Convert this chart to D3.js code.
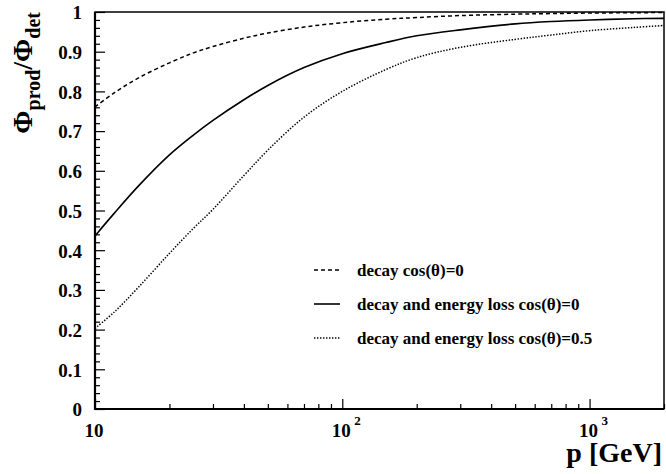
<!DOCTYPE html>
<html lang="en">
<head>
    <meta charset="UTF-8">
    <title>Flux ratio vs momentum</title>
    <script src="https://cdn.jsdelivr.net/npm/d3@7/dist/d3.min.js"></script>
    <style>
        body { margin: 0; background: #fff; }
        svg text { font-family: "Liberation Serif", "Times New Roman", serif; font-weight: bold; fill: #000; }
    </style>
</head>
<body>
<div id="chartArea"></div>
<script>
    'use strict';

    // momentum points (GeV) and the three curves
    const momentum = [10, 12, 15, 20, 25, 30, 40, 50, 70, 100, 150, 200, 300, 500, 700, 1000, 1500, 2000];
    const decayOnly = [0.761, 0.797, 0.834, 0.872, 0.897, 0.913, 0.934, 0.947, 0.962, 0.973, 0.982, 0.986, 0.991, 0.9945, 0.996, 0.9973, 0.9982, 0.9986];
    const decayLoss0 = [0.436, 0.494, 0.562, 0.640, 0.690, 0.727, 0.779, 0.815, 0.860, 0.895, 0.923, 0.940, 0.955, 0.970, 0.976, 0.980, 0.983, 0.984];
    const decayLoss05 = [0.203, 0.245, 0.307, 0.392, 0.455, 0.503, 0.588, 0.652, 0.735, 0.800, 0.855, 0.885, 0.911, 0.931, 0.942, 0.953, 0.961, 0.966];

    const legendLabels = ['decay cos(\u03b8)=0', 'decay and energy loss cos(\u03b8)=0', 'decay and energy loss cos(\u03b8)=0.5'];

    const yMajor = [0, 0.1, 0.2, 0.3, 0.4, 0.5, 0.6, 0.7, 0.8, 0.9, 1];
    const yMajorLabels = ['0', '0.1', '0.2', '0.3', '0.4', '0.5', '0.6', '0.7', '0.8', '0.9', '1'];
    const xMajor = [10, 100, 1000];
    const xMajorExp = [null, '2', '3'];
    const xMinor = [20, 30, 40, 50, 60, 70, 80, 90, 200, 300, 400, 500, 600, 700, 800, 900, 2000];

    const width = 666, height = 474;
    const plotLeft = 95, plotRight = 664, plotTop = 12, plotBottom = 409;

    const svg = d3.select('#chartArea').append('svg').attr('width', width).attr('height', height);

    const x = d3.scaleLog().domain([10, 2000]).range([plotLeft, plotRight]);
    const y = d3.scaleLinear().domain([0, 1]).range([plotBottom, plotTop]);

    // minor y ticks every 0.02
    const yMinor = d3.range(0, 51).map(function (i) { return i / 50; }).filter(function (v, i) { return i % 5 !== 0; });

    const gy = svg.append('g').attr('transform', 'translate(' + plotLeft + ',0)');
    gy.call(d3.axisLeft(y).tickValues(yMajor).tickSizeInner(-10).tickSizeOuter(0).tickPadding(13)
        .tickFormat(function (d, i) { return yMajorLabels[i]; }));
    gy.append('g').call(d3.axisLeft(y).tickValues(yMinor).tickSizeInner(-5).tickSizeOuter(0).tickFormat(''));
    gy.selectAll('.domain').remove();
    gy.selectAll('line').attr('stroke', '#000').attr('stroke-width', 1.2);
    gy.selectAll('text').style('font-size', '19px').attr('dy', '0.36em');

    const gx = svg.append('g').attr('transform', 'translate(0,' + plotBottom + ')');
    gx.call(d3.axisBottom(x).tickValues(xMajor).tickSizeInner(-10).tickSizeOuter(0).tickFormat(''));
    gx.append('g').call(d3.axisBottom(x).tickValues(xMinor).tickSizeInner(-5).tickSizeOuter(0).tickFormat(''));
    gx.selectAll('.domain').remove();
    gx.selectAll('line').attr('stroke', '#000').attr('stroke-width', 1.2);

    // x labels: 10, 10^2, 10^3
    xMajor.forEach(function (v, i) {
        svg.append('text').attr('x', x(v) - 1).attr('y', plotBottom + 28)
            .attr('text-anchor', 'middle').style('font-size', '19px').text('10');
        if (xMajorExp[i]) {
            svg.append('text').attr('x', x(v) + 12).attr('y', plotBottom + 16)
                .style('font-size', '13px').text(xMajorExp[i]);
        }
    });

    // frame
    svg.append('rect').attr('x', plotLeft).attr('y', plotTop).attr('width', plotRight - plotLeft).attr('height', plotBottom - plotTop)
        .attr('fill', 'none').attr('stroke', '#000').attr('stroke-width', 1.5);
    svg.append('path').attr('d', 'M' + plotLeft + ',' + plotTop + 'V' + plotBottom + 'H' + plotRight)
        .attr('fill', 'none').attr('stroke', '#000').attr('stroke-width', 2.2);

    // curves
    const series = [
        { values: decayOnly, dash: '4,3', w: 1.5 },
        { values: decayLoss0, dash: null, w: 1.6 },
        { values: decayLoss05, dash: '1.4,1.6', w: 1.5 }
    ];

    const line = d3.line()
        .x(function (d) { return x(d[0]); })
        .y(function (d) { return y(d[1]); })
        .curve(d3.curveCatmullRom.alpha(0.5));

    series.forEach(function (s) {
        svg.append('path')
            .datum(momentum.map(function (p, i) { return [p, s.values[i]]; }))
            .attr('d', line)
            .attr('fill', 'none')
            .attr('stroke', '#000')
            .attr('stroke-width', s.w)
            .attr('stroke-dasharray', s.dash);
    });

    // legend
    const legendRows = [270, 304, 338];
    series.forEach(function (s, i) {
        svg.append('line').attr('x1', 314).attr('x2', 340).attr('y1', legendRows[i]).attr('y2', legendRows[i])
            .attr('stroke', '#000').attr('stroke-width', s.w).attr('stroke-dasharray', s.dash);
        svg.append('text').attr('x', 357).attr('y', legendRows[i] + 6)
            .style('font-size', '17px').text(legendLabels[i]);
    });

    // axis titles
    svg.append('text').attr('x', 662).attr('y', 462).attr('text-anchor', 'end')
        .style('font-size', '28px').text('p [GeV]');

    const yt = svg.append('text').attr('transform', 'translate(32,12) rotate(-90)')
        .attr('text-anchor', 'end').style('font-size', '28px');
    yt.append('tspan').text('\u03a6');
    yt.append('tspan').attr('dy', 8).style('font-size', '20px').text('prod');
    yt.append('tspan').attr('dy', -8).text('/\u03a6');
    yt.append('tspan').attr('dy', 8).style('font-size', '20px').text('det');
</script>
</body>
</html>
